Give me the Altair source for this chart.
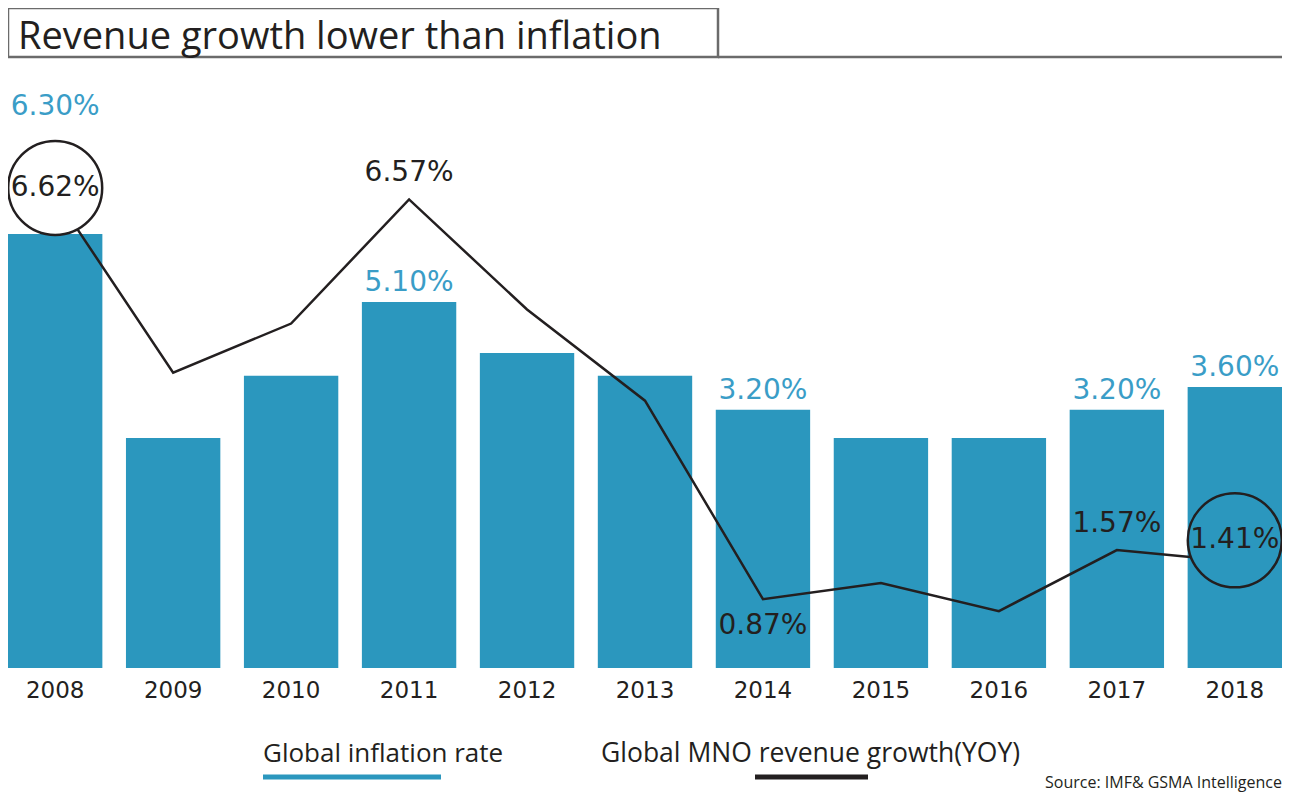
import altair as alt
import pandas as pd

# ---- data ----
years = ["2008", "2009", "2010", "2011", "2012", "2013", "2014", "2015", "2016", "2017", "2018"]
inflation = [6.30, 2.7, 3.8, 5.10, 4.2, 3.8, 3.20, 2.7, 2.7, 3.20, 3.60]
revenue = [6.62, 4.1, 4.8, 6.57, 5.0, 3.7, 0.87, 1.1, 0.7, 1.57, 1.41]

inflation_labeled = ["2011", "2014", "2017", "2018"]
inflation_labeled_high = ["2008"]
revenue_circled_a = ["2008"]
revenue_circled_b = ["2018"]
revenue_above = ["2011", "2017"]
revenue_below = ["2014"]

title_text = "Revenue growth lower than inflation"
legend_bar = "Global inflation rate"
legend_line = "Global MNO revenue growth(YOY)"
source_text = "Source: IMF& GSMA Intelligence"

df = pd.DataFrame({"year": years, "inflation": inflation, "revenue": revenue})
df["inflation_label"] = [f"{v:.2f}%" for v in inflation]
df["revenue_label"] = [f"{v:.2f}%" for v in revenue]
one = pd.DataFrame({"k": [0]})

BAR = "#2b97be"
LBLUE = "#3a9dc7"
INK = "#231f20"
GRAY = "#6b6b6b"
NUMFONT = "DejaVu Sans"
TXTFONT = "Open Sans"

W, H = 1274, 660
BAR_DOMAIN = [-1.359, 10.288]
LINE_DOMAIN = [-0.111, 9.299]

xenc = alt.X(
    "year:N", sort=years,
    scale=alt.Scale(paddingInner=0.2, paddingOuter=0),
    axis=alt.Axis(title=None, labelAngle=0, domain=False, ticks=False, labelPadding=11,
                  labelFont=NUMFONT, labelFontSize=23, labelColor=INK, grid=False),
)
ybar = alt.Y("inflation:Q", stack=None,
             scale=alt.Scale(domain=BAR_DOMAIN, zero=False, nice=False), axis=None)
yline = alt.Y("revenue:Q", scale=alt.Scale(domain=LINE_DOMAIN, zero=False, nice=False), axis=None)

base = alt.Chart(df)

bars = base.mark_bar(color=BAR).encode(x=xenc, y=ybar, y2=alt.Y2(datum=BAR_DOMAIN[0]))
bar_lab = base.mark_text(font=NUMFONT, fontSize=28, color=LBLUE, baseline="middle", dy=-19).encode(
    x=xenc, y=ybar, text="inflation_label:N"
).transform_filter(alt.FieldOneOfPredicate(field="year", oneOf=inflation_labeled))
bar_lab_hi = base.mark_text(font=NUMFONT, fontSize=28, color=LBLUE, baseline="middle", dy=-127).encode(
    x=xenc, y=ybar, text="inflation_label:N"
).transform_filter(alt.FieldOneOfPredicate(field="year", oneOf=inflation_labeled_high))

bar_layer = alt.layer(bars, bar_lab, bar_lab_hi)

line = base.mark_line(color=INK, strokeWidth=2.5).encode(x=xenc, y=yline)
circ_a = base.mark_point(shape="circle", size=8836, filled=True, fill="white", stroke=INK,
                         strokeWidth=2.5, opacity=1, yOffset=-8).encode(x=xenc, y=yline).transform_filter(
    alt.FieldOneOfPredicate(field="year", oneOf=revenue_circled_a))
circ_b = base.mark_point(shape="circle", size=8836, filled=True, fill=BAR, stroke=INK,
                         strokeWidth=2.5, opacity=1, yOffset=-21).encode(x=xenc, y=yline).transform_filter(
    alt.FieldOneOfPredicate(field="year", oneOf=revenue_circled_b))
lab_a = base.mark_text(font=NUMFONT, fontSize=28, color=INK, baseline="middle", dy=-8).encode(
    x=xenc, y=yline, text="revenue_label:N").transform_filter(
    alt.FieldOneOfPredicate(field="year", oneOf=revenue_circled_a))
lab_b = base.mark_text(font=NUMFONT, fontSize=28, color=INK, baseline="middle", dy=-21).encode(
    x=xenc, y=yline, text="revenue_label:N").transform_filter(
    alt.FieldOneOfPredicate(field="year", oneOf=revenue_circled_b))
lab_up = base.mark_text(font=NUMFONT, fontSize=28, color=INK, baseline="middle", dy=-26).encode(
    x=xenc, y=yline, text="revenue_label:N").transform_filter(
    alt.FieldOneOfPredicate(field="year", oneOf=revenue_above))
lab_dn = base.mark_text(font=NUMFONT, fontSize=28, color=INK, baseline="middle", dy=27).encode(
    x=xenc, y=yline, text="revenue_label:N").transform_filter(
    alt.FieldOneOfPredicate(field="year", oneOf=revenue_below))

line_layer = alt.layer(line, circ_a, circ_b, lab_a, lab_b, lab_up, lab_dn)

# ---- decorations: title box, legend, source ----
dec = alt.Chart(one)
title_box = dec.mark_rect(fillOpacity=0, stroke=GRAY, strokeWidth=2.5).encode(
    x=alt.value(0), x2=alt.value(710), y=alt.value(0), y2=alt.value(49))
title_rule = dec.mark_rule(color=GRAY, strokeWidth=2.5).encode(
    x=alt.value(710), x2=alt.value(W), y=alt.value(49))
title = dec.mark_text(font=TXTFONT, fontSize=38, color=INK, align="left", baseline="alphabetic").encode(
    x=alt.value(10), y=alt.value(41), text=alt.value(title_text))
leg1_t = dec.mark_text(font=TXTFONT, fontSize=26, color=INK, align="left", baseline="middle").encode(
    x=alt.value(255), y=alt.value(746), text=alt.value(legend_bar))
leg1_r = dec.mark_rule(color=BAR, strokeWidth=5).encode(
    x=alt.value(255), x2=alt.value(433), y=alt.value(769))
leg2_t = dec.mark_text(font=TXTFONT, fontSize=26.5, color=INK, align="left", baseline="middle").encode(
    x=alt.value(593), y=alt.value(746), text=alt.value(legend_line))
leg2_r = dec.mark_rule(color=INK, strokeWidth=5).encode(
    x=alt.value(747), x2=alt.value(860), y=alt.value(769))
source = dec.mark_text(font=TXTFONT, fontSize=16, color=INK, align="right", baseline="middle").encode(
    x=alt.value(W), y=alt.value(775), text=alt.value(source_text))

chart = alt.layer(
    bar_layer, line_layer, title_box, title_rule, title, leg1_t, leg1_r, leg2_t, leg2_r, source
).resolve_scale(y="independent").properties(
    width=W, height=H, autosize="none",
    padding={"left": 0, "top": 0, "right": 0, "bottom": 126},
    background="white",
).configure_view(stroke=None)

chart.save("out.html", embed_options={"renderer": "svg", "actions": False})
